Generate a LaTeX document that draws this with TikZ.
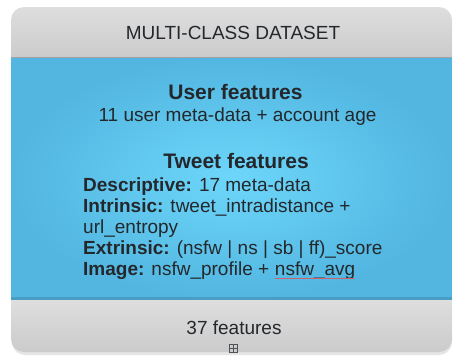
\documentclass[tikz,border=0pt]{standalone}
\usepackage{fontspec}
\setmainfont{Liberation Sans}
\definecolor{txt}{HTML}{24282C}
\definecolor{blueout}{HTML}{52B6E0}
\definecolor{bluein}{HTML}{6DD6FA}
\definecolor{blueline}{HTML}{4A9EC4}
\definecolor{graytop}{HTML}{DEDEDE}
\definecolor{graybot}{HTML}{CBCBCB}
\definecolor{spell}{HTML}{D0606A}
\tikzset{
  body/.style={font=\fontsize{19}{21}\selectfont, text=txt, inner sep=0pt},
  headtxt/.style={font=\fontsize{21}{24}\selectfont\bfseries, text=txt, inner sep=0pt},
  line/.style={body, anchor=base west},
}
\begin{document}
\begin{tikzpicture}[x=1pt,y=-1pt]
\useasboundingbox (0,0) rectangle (453,357);
\fill[white] (0,0) rectangle (453,357);
% faint shadow
\fill[black!10, rounded corners=13pt] (12,9) rectangle (452,355);
\begin{scope}
  \clip[rounded corners=13pt] (11,7) rectangle (452,352);
  \shade[top color=graytop, bottom color=graybot] (11,7) rectangle (452,57);
  \shade[inner color=bluein, outer color=blueout] (11,57) rectangle (452,300);
  \fill[blueline] (11,296.5) rectangle (452,300);
  \draw[graybot!80!black, line width=0.6pt] (11,57.3) -- (452,57.3);
  \shade[top color=graytop, bottom color=graybot] (11,300) rectangle (452,352);
\end{scope}
\node[body, anchor=base] (title) at (233,39) {MULTI-CLASS DATASET};
\node[headtxt, anchor=base] (userhead) at (235.5,99.5) {User features};
\node[body, anchor=base] (userdesc) at (237.5,121.5) {11 user meta-data + account age};
\node[headtxt, anchor=base] (tweethead) at (236,168.5) {Tweet features};
\node[line] (desc) at (83,191) {\textbf{Descriptive:} 17 meta-data};
\node[line] (intr) at (83,212) {\textbf{Intrinsic:} tweet\_intradistance +};
\node[line] (url) at (83,233) {url\_entropy};
\node[line] (extr) at (83,254) {\textbf{Extrinsic:} (nsfw | ns | sb | ff)\_score};
\node[line] (img) at (83,275) {\textbf{Image:} nsfw\_profile +};
\node[line, xshift=5.3pt] (avg) at (img.base east) {nsfw\_avg};
\draw[spell, line width=0.5pt] ([yshift=-3.5pt]avg.base west) -- ([yshift=-3.5pt]avg.base east);
\node[body, anchor=base] (foot) at (234,334) {37 features};
\node[draw=txt!80, line width=0.6pt, minimum size=8.5pt, inner sep=0pt] (icon) at (233.5,348.5) {};
\draw[txt!80, line width=0.6pt] (icon.north) -- (icon.south) (icon.west) -- (icon.east);
\end{tikzpicture}
\end{document}
